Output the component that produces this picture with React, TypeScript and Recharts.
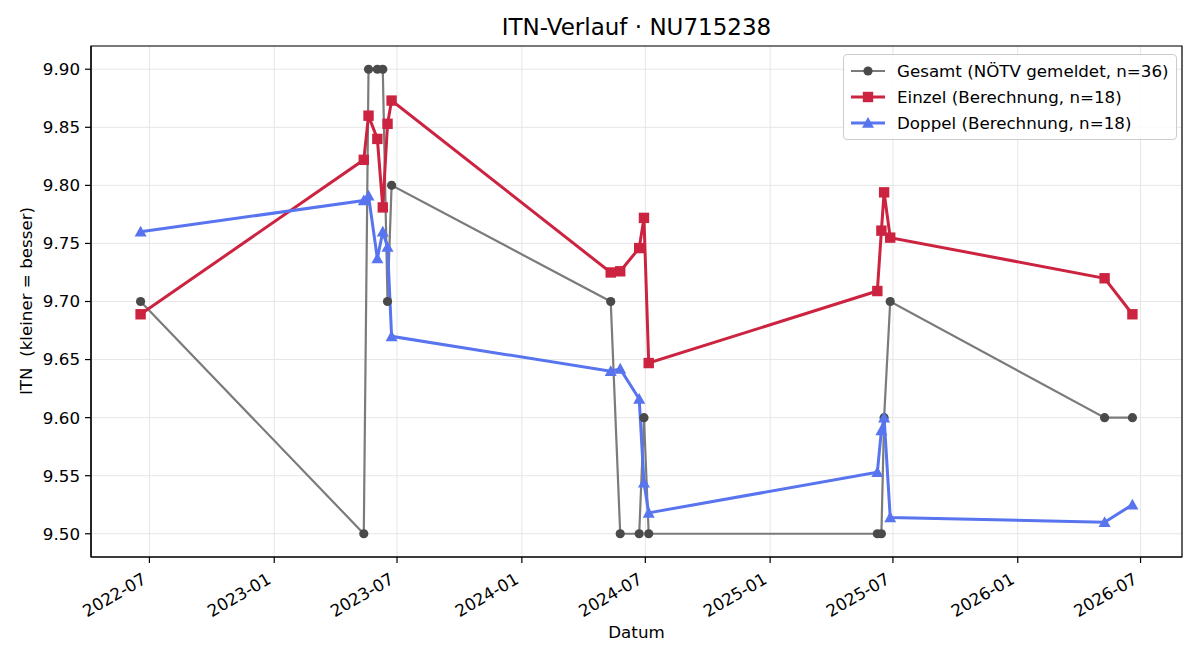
import React from 'react';
import { LineChart, Line, XAxis, YAxis, CartesianGrid, ReferenceArea } from 'recharts';

// Turnierdaten (gleiche Termine für alle drei Reihen)
const dates = [
  '2022-06-18', '2023-05-13', '2023-05-20', '2023-06-02', '2023-06-10', '2023-06-17',
  '2023-06-23', '2024-05-11', '2024-05-25', '2024-06-22', '2024-06-29', '2024-07-06',
  '2025-06-08', '2025-06-14', '2025-06-18', '2025-06-27', '2026-05-09', '2026-06-19',
];

const gesamt = [9.7, 9.5, 9.9, 9.9, 9.9, 9.7, 9.8, 9.7, 9.5, 9.5, 9.6, 9.5, 9.5, 9.5, 9.6, 9.7, 9.6, 9.6];
const einzel = [9.689, 9.822, 9.86, 9.84, 9.781, 9.853, 9.873, 9.725, 9.726, 9.746, 9.772, 9.647, 9.709, 9.761, 9.794, 9.755, 9.72, 9.689];
const doppel = [9.76, 9.787, 9.791, 9.737, 9.76, 9.747, 9.67, 9.64, 9.642, 9.616, 9.544, 9.518, 9.553, 9.589, 9.6, 9.514, 9.51, 9.525];

const yTicks = [9.5, 9.55, 9.6, 9.65, 9.7, 9.75, 9.8, 9.85, 9.9];
const xTickLabels = ['2022-07', '2023-01', '2023-07', '2024-01', '2024-07', '2025-01', '2025-07', '2026-01', '2026-07'];

const FONT = '"DejaVu Sans", sans-serif';
const GREY = '#7b7b7b';
const GREY_DOT = '#4a4a4a';
const RED = '#cc2340';
const BLUE = '#5874ef';

const rows = dates.map((d, i) => ({
  t: Date.parse(d),
  gesamt: gesamt[i],
  einzel: einzel[i],
  doppel: doppel[i],
}));

const xTicks = xTickLabels.map((s) => {
  const [y, m] = s.split('-').map(Number);
  return Date.UTC(y, m - 1, 1);
});

const tMin = rows[0].t;
const tMax = rows[rows.length - 1].t;
const pad = (tMax - tMin) * 0.05;
const xDomain = [tMin - pad, tMax + pad];
const yDomain = [9.48, 9.92];

const fmtMonth = (v: number) => {
  const d = new Date(v);
  return `${d.getUTCFullYear()}-${String(d.getUTCMonth() + 1).padStart(2, '0')}`;
};

const circleDot = (props: any) => (
  <circle key={`c-${props.index}`} cx={props.cx} cy={props.cy} r={4.6} fill={GREY_DOT} />
);

const squareDot = (props: any) => (
  <rect key={`s-${props.index}`} x={props.cx - 5.2} y={props.cy - 5.2} width={10.4} height={10.4} fill={RED} />
);

const triangleDot = (props: any) => {
  const { cx, cy } = props;
  const r = 6;
  return (
    <polygon
      key={`t-${props.index}`}
      points={`${cx},${cy - r} ${cx - r},${cy + r * 0.8} ${cx + r},${cy + r * 0.8}`}
      fill={BLUE}
    />
  );
};

// schräge Datumsbeschriftung, rechts oben am Tick ausgerichtet
const XTick = (props: any) => {
  const { x, y, payload } = props;
  return (
    <g transform={`translate(${x},${y}) rotate(-30)`}>
      <text x={-9} y={11.6} textAnchor="end" fontSize={16.7} fill="#000">
        {fmtMonth(payload.value)}
      </text>
    </g>
  );
};

const legendItems = [
  { label: 'Gesamt (NÖTV gemeldet, n=36)', color: GREY, marker: 'circle' },
  { label: 'Einzel (Berechnung, n=18)', color: RED, marker: 'square' },
  { label: 'Doppel (Berechnung, n=18)', color: BLUE, marker: 'triangle' },
];

const LegendBox = () => (
  <div
    style={{
      position: 'absolute',
      top: 54,
      left: 843,
      border: '1px solid #cccccc',
      borderRadius: 4,
      background: 'rgba(255,255,255,0.85)',
      padding: '3px 7px 3px 7px',
      fontFamily: FONT,
      fontSize: 16.7,
      zIndex: 2,
    }}
  >
    {legendItems.map((it) => (
      <div key={it.label} style={{ display: 'flex', alignItems: 'center', height: 26 }}>
        <svg width={34} height={16} style={{ marginRight: 12 }}>
          <line x1={0} y1={8} x2={34} y2={8} stroke={it.color} strokeWidth={it.marker === 'circle' ? 2.2 : 3} />
          {it.marker === 'circle' && <circle cx={17} cy={8} r={4.6} fill={GREY_DOT} />}
          {it.marker === 'square' && <rect x={11.8} y={2.8} width={10.4} height={10.4} fill={RED} />}
          {it.marker === 'triangle' && <polygon points="17,2 11,12.8 23,12.8" fill={BLUE} />}
        </svg>
        <span>{it.label}</span>
      </div>
    ))}
  </div>
);

export default function App() {
  return (
    <div style={{ position: 'absolute', left: 0, top: 0, width: 1200, height: 660, background: '#fff', fontFamily: FONT }}>
      <div style={{ position: 'absolute', top: 14, left: 91, width: 1091, textAlign: 'center', fontSize: 23 }}>
        ITN-Verlauf · NU715238
      </div>
      <div style={{ position: 'absolute', top: 622, left: 91, width: 1091, textAlign: 'center', fontSize: 16.7 }}>
        Datum
      </div>
      <div
        style={{
          position: 'absolute',
          left: 26,
          top: 301,
          transform: 'translate(-50%, -50%) rotate(-90deg)',
          whiteSpace: 'pre',
          fontSize: 16.7,
        }}
      >
        {'ITN  (kleiner = besser)'}
      </div>
      <LegendBox />
      <LineChart width={1200} height={660} data={rows} margin={{ top: 46, right: 18, bottom: 0, left: 0 }}>
        <CartesianGrid stroke="#e6e6e6" strokeWidth={1} />
        <XAxis
          dataKey="t"
          type="number"
          scale="time"
          domain={xDomain}
          ticks={xTicks}
          tick={<XTick />}
          height={103}
          tickSize={6}
          tickMargin={5}
          allowDataOverflow
          axisLine={{ stroke: '#000', strokeWidth: 1.2 }}
          tickLine={{ stroke: '#000', strokeWidth: 1.2 }}
        />
        <YAxis
          type="number"
          domain={yDomain}
          ticks={yTicks}
          width={91}
          tickSize={6}
          tickMargin={5}
          allowDataOverflow
          tickFormatter={(v: number) => v.toFixed(2)}
          tick={{ fill: '#000', fontSize: 16.7 }}
          axisLine={{ stroke: '#000', strokeWidth: 1.2 }}
          tickLine={{ stroke: '#000', strokeWidth: 1.2 }}
        />
        {/* Rahmen um die Zeichenfläche */}
        <ReferenceArea
          x1={xDomain[0]}
          x2={xDomain[1]}
          y1={yDomain[0]}
          y2={yDomain[1]}
          fill="none"
          stroke="#000"
          strokeWidth={1.2}
          ifOverflow="visible"
        />
        <Line
          dataKey="gesamt"
          stroke={GREY}
          strokeWidth={2.2}
          dot={circleDot}
          activeDot={false}
          isAnimationActive={false}
        />
        <Line
          dataKey="einzel"
          stroke={RED}
          strokeWidth={3}
          dot={squareDot}
          activeDot={false}
          isAnimationActive={false}
        />
        <Line
          dataKey="doppel"
          stroke={BLUE}
          strokeWidth={3}
          dot={triangleDot}
          activeDot={false}
          isAnimationActive={false}
        />
      </LineChart>
    </div>
  );
}
